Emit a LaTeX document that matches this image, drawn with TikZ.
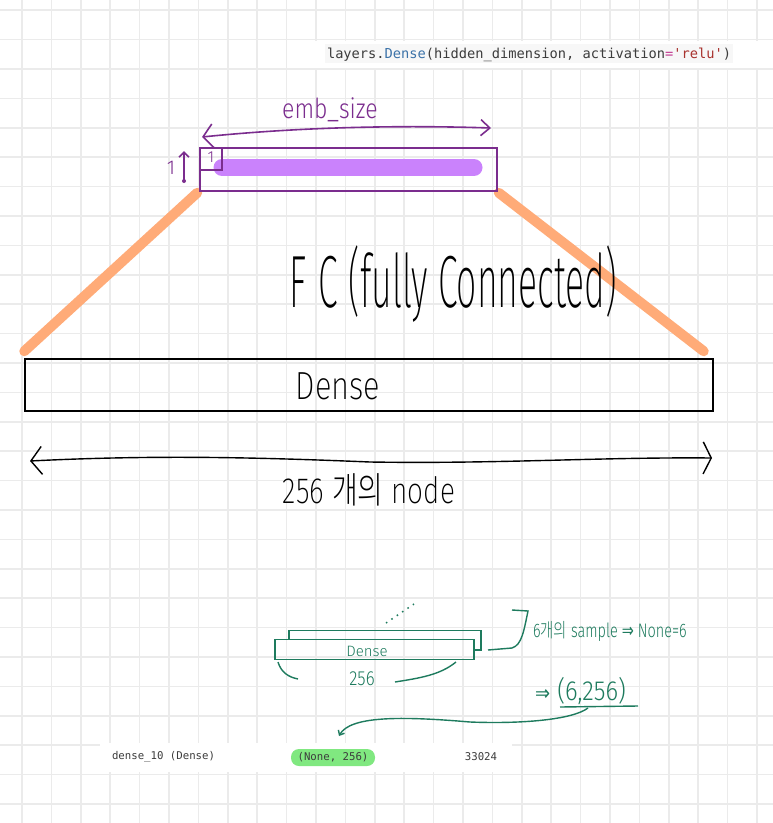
\documentclass[tikz,border=0pt]{standalone}
\usepackage{fontspec}
\setmainfont{Fira Sans}
\setmonofont{DejaVu Sans Mono}
\IfFontExistsTF{Noto Sans CJK KR Light}{\newfontfamily\kr{Noto Sans CJK KR Light}}{%
  \IfFontExistsTF{Noto Sans CJK KR DemiLight}{\newfontfamily\kr{Noto Sans CJK KR DemiLight}}{\newfontfamily\kr{Noto Sans CJK KR}}}
\newfontfamily\sym{DejaVu Sans}
\IfFontExistsTF{Fira Sans ExtraLight}{\newfontfamily\hw{Fira Sans ExtraLight}}{%
  \IfFontExistsTF{Fira Sans Light}{\newfontfamily\hw{Fira Sans Light}}{\newfontfamily\hw{Fira Sans}}}
\IfFontExistsTF{Fira Sans Light}{\newfontfamily\hwm{Fira Sans Light}}{\newfontfamily\hwm{Fira Sans}}
\usetikzlibrary{arrows.meta}
\definecolor{gridc}{HTML}{EBEBEB}
\definecolor{pdark}{HTML}{7B2D8E}
\definecolor{plight}{HTML}{CA82FC}
\definecolor{orng}{HTML}{FFAB78}
\definecolor{gr}{HTML}{1E7B5E}
\definecolor{hl}{HTML}{80E880}
\definecolor{codeblue}{HTML}{3B72A8}
\definecolor{codered}{HTML}{A8322E}
\definecolor{codepink}{HTML}{C2378F}
\definecolor{codegray}{HTML}{3C3C3C}
\definecolor{codebg}{HTML}{F7F7F7}
\pgfdeclarelayer{bg}
\pgfsetlayers{bg,main}
\begin{document}
\begin{tikzpicture}[x=1pt,y=-1pt,
  gridline/.style={draw=gridc,line width=1.6},
  hand/.style={inner sep=0,outer sep=0},
  pline/.style={draw=pdark,line width=1.6},
  gline/.style={draw=gr,line width=1.4},
  bline/.style={draw=black,line width=1.5},
  orangeline/.style={draw=orng,line width=10,line cap=round}]
\useasboundingbox (0,0) rectangle (773,823);
\begin{pgfonlayer}{bg}
\fill[white] (0,0) rectangle (773,823);
\foreach \i in {0,...,25} \draw[gridline] ({22+29.4*\i},0) -- ({22+29.4*\i},823);
\foreach \j in {0,...,27} \draw[gridline] (0,{10.1+29.4*\j}) -- (773,{10.1+29.4*\j});
\fill[white] (305,41) rectangle (773,68);
\fill[codebg] (325,44) rectangle (733,63);
\fill[white] (100,743) rectangle (512,772);
\end{pgfonlayer}

% code line
\node[hand,anchor=base west,font=\ttfamily\fontsize{13.7}{16}\selectfont] (code) at (327,58)
  {\textcolor{codegray}{layers.}\textcolor{codeblue}{Dense}\textcolor{codegray}{(hidden\_dimension, activation}\textcolor{codepink}{=}\textcolor{codered}{'relu'}\textcolor{codegray}{)}};

% top embedding box
\node[pline,minimum width=297,minimum height=43,inner sep=0] (emb) at (348.5,169.5) {};
\draw[plight,line width=17,line cap=round] (222,167.5) -- (474,167.5);
\node[draw=pdark,line width=1.4,minimum size=22,inner sep=0,anchor=north west,text=pdark,font=\hwm\fontsize{16}{17}\selectfont] (one) at (emb.north west) {\raisebox{2.5pt}{1}};
\node[hand,text=pdark,font=\hwm\fontsize{23}{24}\selectfont] (embsize) at (330,110) {\scalebox{1}[1.2]{emb\_size}};
\coordinate (ea) at (202,137);
\coordinate (eb) at (491,128);
\draw[pline,{Straight Barb[length=10pt,width=24pt]}-{Straight Barb[length=9pt,width=16pt]}] (ea) .. controls (300,127) and (400,125) .. (eb);
\node[hand,text=pdark,font=\hwm\fontsize{20}{22}\selectfont] (onel) at (171,168) {1};
\coordinate (ua) at (184,181);
\coordinate (ub) at (184,151);
\draw[pline,-{Straight Barb[length=5pt,width=10pt]}] (ua) -- (ub);
\fill[pdark] (ua) circle (2);

% dense layer
\node[bline,minimum width=688,minimum height=52,inner sep=0] (dense) at (369,385) {};
\node[hand,font=\hw\fontsize{28}{30}\selectfont] (densetxt) at (338,386) {\scalebox{1.1}[1.4]{Dense}};

% fully connected lines
\begin{pgfonlayer}{bg}
\draw[orangeline] ([xshift=-2pt,yshift=-1pt]emb.south west) -- ([yshift=7pt]dense.north west);
\draw[orangeline] ([xshift=1pt,yshift=-1pt]emb.south east) -- ([xshift=-10pt,yshift=7pt]dense.north east);
\end{pgfonlayer}
\node[hand,font=\hw\fontsize{40}{42}\selectfont] (fc) at (453,284) {\scalebox{0.89}[1.85]{F\hspace{0.35em}C\hspace{0.3em}(fully Connected)}};

% width arrow
\coordinate (la) at (30,461);
\coordinate (ra) at (712,458);
\draw[bline,line width=1.4,{Straight Barb[length=11pt,width=28pt]}-{Straight Barb[length=8pt,width=32pt]}] (la) .. controls (150,455) and (250,457) .. (370,462) .. controls (500,464) and (600,457) .. (ra);
\node[hand,font=\hw\fontsize{28}{30}\selectfont] (n256) at (369,490) {\scalebox{1}[1.3]{256 {\kr 개의} node}};

% green sketch
\draw[gline] (289,639) -- (289,630.5) -- (481,630.5) -- (481,650) -- (474,650);
\node[gline,minimum width=199,minimum height=20,inner sep=0] (gdense) at (374.5,649.3) {};
\node[hand,text=gr,font=\hwm\fontsize{15}{16}\selectfont] (gdtxt) at (367,651) {Dense};
\draw[gr,line width=1.5,dash pattern=on 1.5pt off 5pt] (386,623) -- (414,604);
\draw[gline] (278,662) .. controls (281,672) and (288,677) .. (298,679);
\draw[gline] (456,662) .. controls (440,675) and (420,678) .. (395,682);
\node[hand,text=gr,font=\hwm\fontsize{17}{18}\selectfont] (g256) at (362,679) {\scalebox{1}[1.2]{256}};
\draw[gline] (512,610) -- (528,611) .. controls (524,630) and (522,645) .. (512,648) -- (488,650);
\node[hand,anchor=west,text=gr,font=\hwm\fontsize{14}{15}\selectfont] (sample) at (533,631) {\scalebox{1.03}[1.4]{6{\kr 개의} sample {\sym ⇒} None=6}};
\node[hand,anchor=west,text=gr,font=\hwm\fontsize{24}{26}\selectfont] (shape6) at (535,691) {\scalebox{1}[1.15]{{\sym\fontsize{18}{19}\selectfont ⇒}\hspace{0.3em}(6,256)}};
\coordinate (ul1) at (560,707);
\coordinate (ul2) at (638,706);
\draw[gline] (ul1) -- (ul2);
\coordinate (cs) at (588,708);
\coordinate (ce) at (339,736);
\draw[gline,-{Straight Barb[length=4pt,width=7pt]}] (cs) .. controls (572,720) and (520,724) .. (470,722) .. controls (400,716) and (350,716) .. (ce);

% summary row
\node[hand,anchor=west,text=codegray,font=\ttfamily\fontsize{10.7}{12}\selectfont] (dname) at (112,757) {dense\_10 (Dense)};
\node[fill=hl,rounded corners=8,minimum width=84,minimum height=17,inner sep=0,text=codegray,font=\ttfamily\fontsize{10.7}{12}\selectfont] (oshape) at (333,757.5) {(None, 256)};
\node[hand,text=codegray,font=\ttfamily\fontsize{10.7}{12}\selectfont] (params) at (481,757) {33024};
\end{tikzpicture}
\end{document}
